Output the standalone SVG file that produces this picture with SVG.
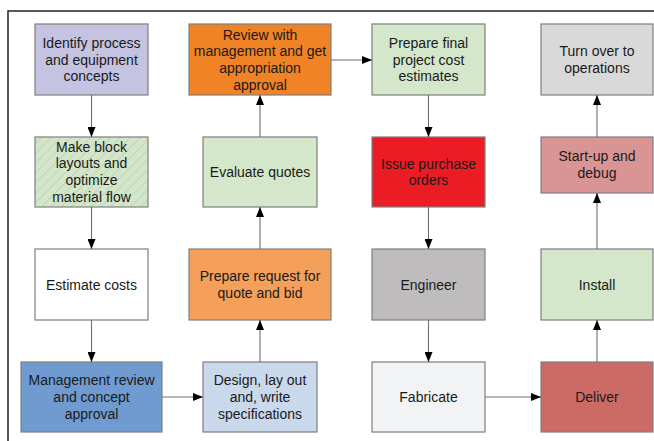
<svg xmlns="http://www.w3.org/2000/svg" width="654" height="441" viewBox="0 0 654 441">
  <defs>
    <marker id="arrow" viewBox="0 0 10 8" refX="10" refY="4" markerWidth="10" markerHeight="8" markerUnits="userSpaceOnUse" orient="auto">
      <path d="M0,0 L10,4 L0,8 Z" fill="#000"/>
    </marker>
    <pattern id="hatch" width="7" height="7" patternUnits="userSpaceOnUse" patternTransform="rotate(45)">
      <rect width="7" height="7" fill="#d4e6c9"/>
      <line x1="0" y1="0" x2="0" y2="7" stroke="#b4cbb6" stroke-width="1.3"/>
    </pattern>
    <style>
      .box { stroke: #7f7f7f; stroke-width: 1.2; }
      .lbl { font-family: "Liberation Sans", Arial, sans-serif; font-size: 14px; fill: #1a1a1a; text-anchor: middle; }
      .conn line { stroke: #6e6e6e; stroke-width: 1.1; marker-end: url(#arrow); }
    </style>
  </defs>

  <rect width="654" height="441" fill="#fff"/>
  <!-- outer frame, continues past the right and bottom edges -->
  <rect x="8" y="11" width="660" height="450" fill="none" stroke="#222" stroke-width="1.5"/>

  <!-- column 1 -->
  <g id="identify">
    <rect class="box" x="35" y="24" width="113" height="71" fill="#c4c3e2"/>
    <text class="lbl" x="91.5" y="48">Identify process</text>
    <text class="lbl" x="91.5" y="64.7">and equipment</text>
    <text class="lbl" x="91.5" y="81.4">concepts</text>
  </g>
  <g id="block-layouts">
    <rect class="box" x="35" y="137" width="113" height="70" fill="url(#hatch)"/>
    <text class="lbl" x="91.5" y="151.7">Make block</text>
    <text class="lbl" x="91.5" y="168.4">layouts and</text>
    <text class="lbl" x="91.5" y="185.1">optimize</text>
    <text class="lbl" x="91.5" y="201.8">material flow</text>
  </g>
  <g id="estimate-costs">
    <rect class="box" x="35" y="249" width="113" height="71" fill="#ffffff"/>
    <text class="lbl" x="91.5" y="289.5">Estimate costs</text>
  </g>
  <g id="management-review">
    <rect class="box" x="21" y="362" width="141" height="70" fill="#6f9bd1"/>
    <text class="lbl" x="91.5" y="385.3">Management review</text>
    <text class="lbl" x="91.5" y="402">and concept</text>
    <text class="lbl" x="91.5" y="418.7">approval</text>
  </g>

  <!-- column 2 -->
  <g id="review-appropriation">
    <rect class="box" x="189" y="24" width="142" height="71" fill="#f08326"/>
    <text class="lbl" x="260" y="39.5">Review with</text>
    <text class="lbl" x="260" y="56.2">management and get</text>
    <text class="lbl" x="260" y="72.9">appropriation</text>
    <text class="lbl" x="260" y="89.6">approval</text>
  </g>
  <g id="evaluate-quotes">
    <rect class="box" x="203" y="137" width="114" height="70" fill="#d4e7ca"/>
    <text class="lbl" x="260" y="177">Evaluate quotes</text>
  </g>
  <g id="request-quote">
    <rect class="box" x="189" y="249" width="142" height="71" fill="#f4a05a"/>
    <text class="lbl" x="260" y="281.3">Prepare request for</text>
    <text class="lbl" x="260" y="298">quote and bid</text>
  </g>
  <g id="design">
    <rect class="box" x="203" y="362" width="114" height="70" fill="#c9d8ea"/>
    <text class="lbl" x="260" y="385.3">Design, lay out</text>
    <text class="lbl" x="260" y="402">and, write</text>
    <text class="lbl" x="260" y="418.7">specifications</text>
  </g>

  <!-- column 3 -->
  <g id="final-estimates">
    <rect class="box" x="372" y="24" width="113" height="71" fill="#d4e7ca"/>
    <text class="lbl" x="428.5" y="48">Prepare final</text>
    <text class="lbl" x="428.5" y="64.7">project cost</text>
    <text class="lbl" x="428.5" y="81.4">estimates</text>
  </g>
  <g id="purchase-orders">
    <rect class="box" x="372" y="137" width="113" height="70" fill="#ec1c24"/>
    <text class="lbl" x="428.5" y="168.7">Issue purchase</text>
    <text class="lbl" x="428.5" y="185.4">orders</text>
  </g>
  <g id="engineer">
    <rect class="box" x="372" y="249" width="113" height="71" fill="#bebcbd"/>
    <text class="lbl" x="428.5" y="289.5">Engineer</text>
  </g>
  <g id="fabricate">
    <rect class="box" x="372" y="362" width="113" height="70" fill="#f1f3f5"/>
    <text class="lbl" x="428.5" y="402">Fabricate</text>
  </g>

  <!-- column 4 -->
  <g id="turn-over">
    <rect class="box" x="541" y="24" width="112" height="71" fill="#d9d9d9"/>
    <text class="lbl" x="597" y="56.3">Turn over to</text>
    <text class="lbl" x="597" y="73">operations</text>
  </g>
  <g id="startup">
    <rect class="box" x="541" y="137" width="112" height="56" fill="#d99594"/>
    <text class="lbl" x="597" y="161.3">Start-up and</text>
    <text class="lbl" x="597" y="178">debug</text>
  </g>
  <g id="install">
    <rect class="box" x="541" y="249" width="112" height="71" fill="#d4e7ca"/>
    <text class="lbl" x="597" y="289.5">Install</text>
  </g>
  <g id="deliver">
    <rect class="box" x="541" y="362" width="112" height="70" fill="#cc6b66"/>
    <text class="lbl" x="597" y="402">Deliver</text>
  </g>

  <g class="conn">
    <line x1="91.5" y1="95" x2="91.5" y2="137"/>
    <line x1="91.5" y1="207" x2="91.5" y2="249"/>
    <line x1="91.5" y1="320" x2="91.5" y2="362"/>
    <line x1="162" y1="397" x2="203" y2="397"/>
    <line x1="260" y1="362" x2="260" y2="320"/>
    <line x1="260" y1="249" x2="260" y2="207"/>
    <line x1="260" y1="137" x2="260" y2="95"/>
    <line x1="331" y1="60" x2="372" y2="60"/>
    <line x1="428.5" y1="95" x2="428.5" y2="137"/>
    <line x1="428.5" y1="207" x2="428.5" y2="249"/>
    <line x1="428.5" y1="320" x2="428.5" y2="362"/>
    <line x1="485" y1="397" x2="541" y2="397"/>
    <line x1="597" y1="362" x2="597" y2="320"/>
    <line x1="597" y1="249" x2="597" y2="193"/>
    <line x1="597" y1="137" x2="597" y2="95"/>
  </g>
</svg>
